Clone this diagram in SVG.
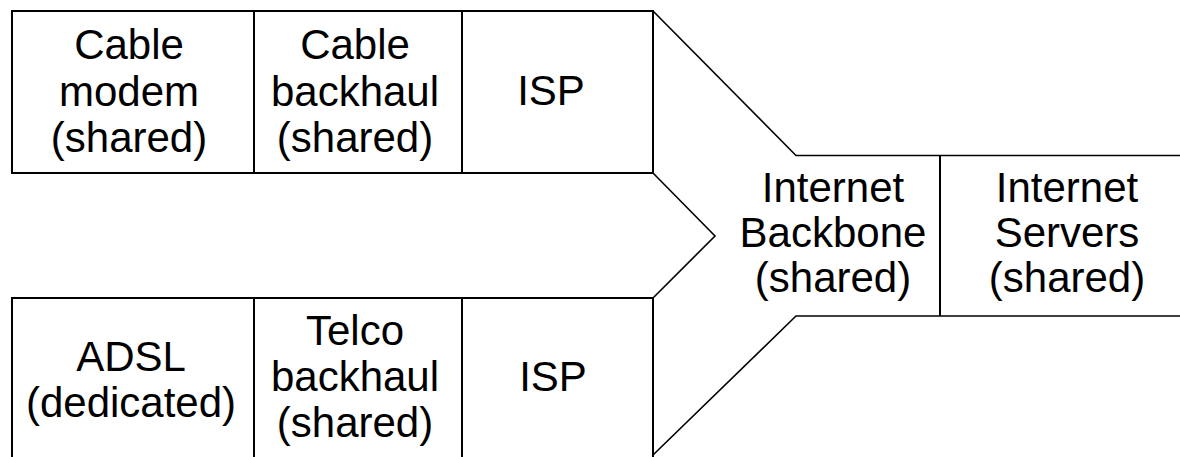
<svg xmlns="http://www.w3.org/2000/svg" width="1180" height="457" viewBox="0 0 1180 457">
<style>
.box{fill:none;stroke:#000;stroke-width:2}
.ln{fill:none;stroke:#000;stroke-width:1.6}
text{font-family:"Liberation Sans",Arial,sans-serif;font-size:42px;fill:#000;text-anchor:middle}
</style>
<rect width="1180" height="457" fill="#fff"/>
<g id="connectors">
<polyline class="ln" points="653,11 796,155.5 1182,155.5"/>
<polyline class="ln" points="653,173 715,236 653,298"/>
<polyline class="ln" points="653,455 796,316 1182,316"/>
<line class="box" x1="940" y1="155.5" x2="940" y2="316"/>
</g>
<g id="cable-modem">
<rect class="box" x="12" y="11" width="242" height="162"/>
<text x="129" y="59">Cable</text>
<text x="129" y="106">modem</text>
<text x="129" y="152">(shared)</text>
</g>
<g id="cable-backhaul">
<rect class="box" x="254" y="11" width="208" height="162"/>
<text x="355" y="59">Cable</text>
<text x="355" y="106">backhaul</text>
<text x="355" y="152">(shared)</text>
</g>
<g id="isp-top">
<rect class="box" x="462" y="11" width="191" height="162"/>
<text x="551" y="105">ISP</text>
</g>
<g id="adsl">
<rect class="box" x="12" y="298" width="242" height="170"/>
<text x="131" y="371">ADSL</text>
<text x="131" y="417">(dedicated)</text>
</g>
<g id="telco-backhaul">
<rect class="box" x="254" y="298" width="208" height="170"/>
<text x="355" y="345">Telco</text>
<text x="355" y="391">backhaul</text>
<text x="355" y="437">(shared)</text>
</g>
<g id="isp-bottom">
<rect class="box" x="462" y="298" width="191" height="170"/>
<text x="553" y="391">ISP</text>
</g>
<g id="internet-backbone">
<text x="833" y="202">Internet</text>
<text x="833" y="247">Backbone</text>
<text x="833" y="292">(shared)</text>
</g>
<g id="internet-servers">
<text x="1067" y="202">Internet</text>
<text x="1067" y="247">Servers</text>
<text x="1067" y="292">(shared)</text>
</g>
</svg>
